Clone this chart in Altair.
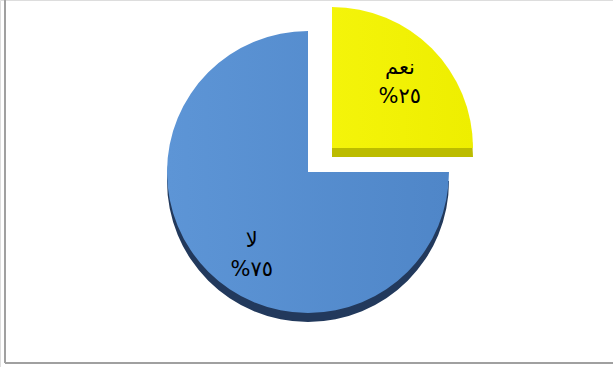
import math
import altair as alt
import pandas as pd

# ---- data ----
categories = ["نعم", "لا"]
values = [25, 75]
pct_labels = ["%٢٥", "%٧٥"]
order = [0, 1]

df = pd.DataFrame({
    "category": categories,
    "value": values,
    "label": [c + "\n" + p for c, p in zip(categories, pct_labels)],
    "order": order,
})

W, H = 613, 367
R = 141
DEPTH = 9

base = (
    alt.Chart(df)
    .transform_window(cum="sum(value)", sort=[alt.SortField("order")], frame=[None, 0])
    .transform_calculate(start="datum.cum - datum.value", mid="datum.cum - datum.value / 2")
)

tscale = alt.Scale(domain=[0, 100], range=[0, 2 * math.pi])


def slice_layers(cat, cx, cy, face, edge, lab_r, ldx, ldy):
    b = base.transform_filter(alt.datum.category == cat)
    enc = dict(
        theta=alt.Theta("start:Q", scale=tscale),
        theta2="cum:Q",
    )
    shadow = b.mark_arc(radius=R, fill=edge, stroke=None).encode(
        x=alt.value(cx), y=alt.value(cy + DEPTH), **enc
    )
    top = b.mark_arc(radius=R, fill=face, stroke=None).encode(
        x=alt.value(cx), y=alt.value(cy), **enc
    )
    txt = b.mark_text(
        radius=lab_r, lineBreak="\n", fontSize=21, font="DejaVu Sans",
        color="#000000", align="center", baseline="middle", lineHeight=29,
        dx=ldx, dy=ldy,
    ).encode(
        x=alt.value(cx), y=alt.value(cy),
        theta=alt.Theta("mid:Q", scale=tscale, stack=False),
        text="label:N",
    )
    return shadow, top, txt


blue_face = alt.Gradient(
    gradient="linear",
    stops=[alt.GradientStop(color="#5d95d6", offset=0),
           alt.GradientStop(color="#4f86c8", offset=1)],
    x1=0, x2=1, y1=0, y2=0,
)
yellow_face = alt.Gradient(
    gradient="linear",
    stops=[alt.GradientStop(color="#f4f40a", offset=0),
           alt.GradientStop(color="#eeee00", offset=1)],
    x1=0, x2=1, y1=0, y2=0,
)

b_sh, b_top, b_txt = slice_layers("لا", 308, 172, blue_face, "#22395c", 98, 13, 0)
y_sh, y_top, y_txt = slice_layers("نعم", 332, 148, yellow_face, "#bcbc00", 96, 0, -12)

border_left = alt.Chart(df).mark_rule(color="#a0a0a0", strokeWidth=2).encode(
    x=alt.value(5), y=alt.value(0), y2=alt.value(363)
)
border_bottom = alt.Chart(df).mark_rule(color="#a0a0a0", strokeWidth=2).encode(
    x=alt.value(5), x2=alt.value(W), y=alt.value(363)
)

chart = (
    alt.layer(b_sh, b_top, y_sh, y_top, b_txt, y_txt, border_left, border_bottom)
    .properties(width=W, height=H, padding=0, autosize=alt.AutoSizeParams(type="none"))
    .configure_view(stroke=None)
    .configure(background="white")
)

chart.save("out.html", embed_options={"renderer": "svg", "actions": False})
